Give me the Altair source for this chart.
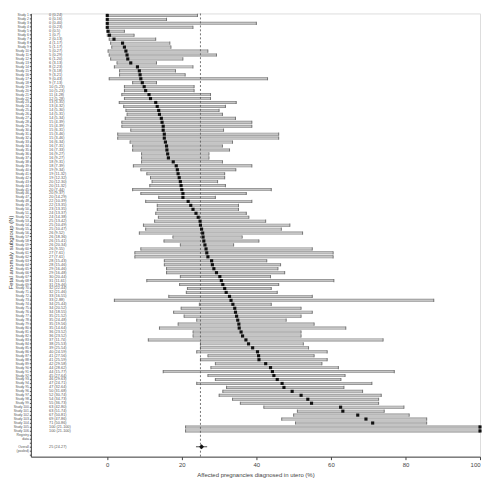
import altair as alt
import pandas as pd

# ---- data -------------------------------------------------------------------
est = [0, 0, 0, 0, 0.2, 0.6, 1.8, 4.1, 4.6, 5.0, 5.3, 5.5, 6.3, 8.1, 8.6, 8.8, 9.0, 9.4, 9.9, 10.3, 11.2, 11.6,
       13.0, 13.4, 13.8, 14.0, 14.5, 14.7, 15.0, 15.0, 15.3, 15.3, 15.6, 15.9, 16.0, 16.2, 16.4, 17.7, 18.5, 18.8,
       19.0, 19.3, 19.6, 19.8, 20.0, 20.3, 20.3, 21.7, 22.4, 23.0, 23.8, 24.4, 24.9, 25.0, 25.3, 25.6, 25.7, 25.9,
       26.2, 26.5, 26.7, 27.0, 28.0, 28.2, 28.6, 29.3, 30.2, 30.6, 31.0, 31.5, 31.9, 32.8, 33.2, 33.7,
       34.2, 34.4, 34.7, 35.0, 35.3, 35.4, 35.9, 36.3, 37.2, 37.9, 39.0, 40.3, 40.6, 40.7, 42.5, 43.8, 44.3, 44.7,
       45.6, 46.9, 47.4, 49.6, 52.0, 53.8, 54.8, 62.6, 63.2, 67.2, 69.4, 71.2, 100, 100]
low = [0, 0, 0, 0, 0, 0, 0.5, 0.9, 1.2, 0.2, 0.5, 0.9, 2.6, 1.9, 3.3, 3.3, 0.5, 6.8, 4.6, 4.6, 3.9, 4.6,
       3.2, 4.4, 5.0, 5.3, 4.8, 3.9, 3.9, 6.3, 2.8, 2.8, 6.1, 6.8, 6.8, 9.2, 9.2, 9.2, 7.0, 9.0,
       10.6, 11.6, 12.0, 11.4, 6.8, 9.0, 13.8, 10.3, 13.4, 13.4, 13.0, 13.7, 12.7, 9.7, 10.3, 8.6, 17.6, 15.2,
       19.6, 9.0, 7.4, 7.4, 15.3, 15.3, 15.9, 15.9, 19.6, 10.6, 19.4, 21.5, 21.2, 16.5, 1.9, 24.7,
       19.8, 17.8, 20.6, 24.0, 19.0, 14.0, 23.0, 23.0, 11.0, 25.0, 25.0, 24.0, 27.0, 25.0, 29.0, 27.8, 15.0, 27.0,
       29.0, 24.0, 32.0, 31.0, 30.0, 33.6, 35.7, 42.0, 51.0, 50.0, 46.8, 50.5, 21.0, 21.0]
high = [24.2, 15.9, 40.0, 23.0, 4.6, 7.2, 13.0, 16.8, 17.1, 27.0, 29.3, 20.3, 13.2, 23.0, 18.3, 20.9, 43.0, 13.2, 23.3, 23.3, 27.7, 27.7,
        34.6, 31.7, 30.0, 30.9, 34.4, 38.8, 38.8, 31.2, 46.0, 46.0, 33.6, 30.9, 32.8, 27.3, 27.3, 30.9, 38.8, 34.5,
        31.5, 31.5, 29.6, 31.7, 44.0, 37.3, 29.0, 38.8, 35.2, 35.2, 37.3, 38.0, 42.5, 49.0, 46.7, 52.4, 36.2, 40.7,
        33.9, 55.0, 60.6, 60.6, 42.8, 46.5, 45.8, 47.6, 43.8, 60.8, 46.0, 44.0, 45.6, 55.0, 87.6, 44.0,
        52.0, 55.0, 52.0, 48.0, 55.5, 64.0, 52.0, 52.0, 74.0, 52.6, 54.0, 59.0, 55.5, 59.0, 57.6, 62.0, 77.0, 63.8,
        62.7, 71.0, 63.5, 68.5, 73.5, 72.8, 72.8, 79.6, 74.3, 81.0, 85.7, 85.7, 100, 100]
studies = [f"Study {i}" for i in range(1, len(est) + 1)]

summary_rows = ["Registry", "data", " ", "Overall", "(pooled)", "  "]
pooled_label = "Overall"
pooled_est, pooled_low, pooled_high = 25.3, 23.8, 26.8
reference_value = 25
x_ticks = [0, 20, 40, 60, 80, 100]

# ---- tables -------------------------------------------------------------------
row_order = studies + summary_rows
df = pd.DataFrame({"row": studies, "est": est, "low": low, "high": high})
df["txt"] = [f"{e:.0f} ({l:.0f}-{h:.0f})" for e, l, h in zip(est, low, high)]
pooled = pd.DataFrame({"row": [pooled_label], "est": [pooled_est], "low": [pooled_low],
                       "high": [pooled_high],
                       "txt": [f"{pooled_est:.0f} ({pooled_low:.0f}-{pooled_high:.0f})"]})
ref = pd.DataFrame({"ref": [reference_value]})

FONT = "Liberation Sans"
xscale = alt.Scale(domain=[-20.5, 100], nice=False, zero=False)
yscale = alt.Scale(domain=row_order)

X = alt.X("low:Q", scale=xscale,
          axis=alt.Axis(values=x_ticks, title="Affected pregnancies diagnosed in utero (%)",
                        labelFontSize=6, titleFontSize=6, labelColor="#444", titleColor="#444",
                        tickSize=3, tickColor="#444", domainColor="#444", grid=False,
                        labelPadding=2, titlePadding=4, titleFontWeight="normal", labelFont=FONT, titleFont=FONT))
Y = alt.Y("row:N", sort=row_order, scale=yscale,
          axis=alt.Axis(title="Fetal anomaly subgroup (N)", labelFontSize=3.4, titleFontSize=6,
                        labelColor="#555", titleColor="#444", tickSize=1.5, tickColor="#444",
                        domainColor="#444", labelPadding=1, titleX=-17, titleY=240,
                        titleFontWeight="normal", labelFont=FONT, titleFont=FONT, grid=False))

base = alt.Chart(df)
ci_edge = base.mark_rule(strokeWidth=3.0, color="#8a8a8a").encode(x=X, x2="high:Q", y=Y)
ci = base.mark_rule(strokeWidth=1.7, color="#c6c6c6").encode(x=alt.X("low:Q"), x2="high:Q", y=alt.Y("row:N"))
cap_lo = base.mark_tick(size=3.2, thickness=1, color="#555").encode(x=alt.X("low:Q"), y=alt.Y("row:N"))
cap_hi = base.mark_tick(size=3.2, thickness=1, color="#555").encode(x=alt.X("high:Q"), y=alt.Y("row:N"))
pts = base.mark_square(size=10, color="#111", opacity=1).encode(x=alt.X("est:Q"), y=alt.Y("row:N"))
txt = base.mark_text(align="left", fontSize=3.8, color="#555", font=FONT).encode(
    x=alt.datum(-15.6), y=alt.Y("row:N"), text="txt:N")

refline = alt.Chart(ref).mark_rule(strokeDash=[2, 2], color="#555", strokeWidth=0.8).encode(x=alt.X("ref:Q"))

pb = alt.Chart(pooled)
pool_ci = pb.mark_rule(strokeWidth=0.8, color="#222").encode(x=alt.X("low:Q"), x2="high:Q", y=alt.Y("row:N"))
pool_pt = pb.mark_point(shape="diamond", filled=True, size=24, color="#111", opacity=1).encode(
    x=alt.X("est:Q"), y=alt.Y("row:N"))
pool_txt = pb.mark_text(align="left", fontSize=3.8, color="#555", font=FONT).encode(
    x=alt.datum(-15.6), y=alt.Y("row:N"), text="txt:N")

chart = alt.layer(ci_edge, ci, refline, cap_lo, cap_hi, pts, txt, pool_ci, pool_pt, pool_txt).properties(
    width=452, height=446, padding={"top": 3, "left": 0, "right": 0, "bottom": 0}
).configure_view(stroke=None).configure(background="white")

chart.save("out.html", embed_options={"renderer": "svg", "actions": False})
